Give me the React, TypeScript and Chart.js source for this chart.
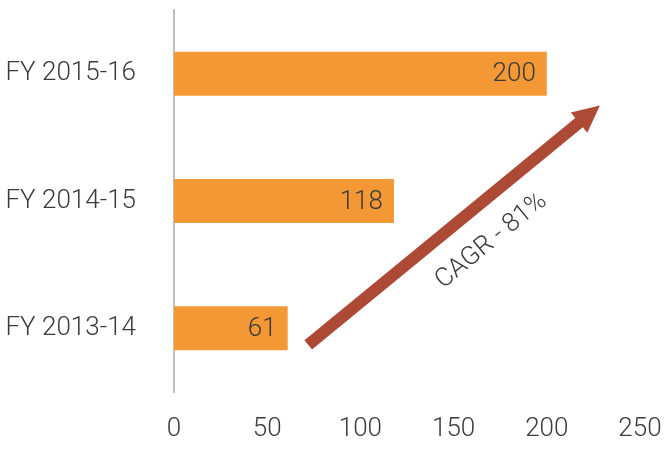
import React, { useEffect, useRef } from "react";
import { Chart, registerables } from "chart.js";

Chart.register(...registerables);

const categories = ["FY 2015-16", "FY 2014-15", "FY 2013-14"];
const values = [200, 118, 61];
const xTicks = [0, 50, 100, 150, 200, 250];
const arrowLabel = "CAGR - 81%";
// arrow endpoints in data space: [x value, category index]
const arrowStart = [72, 2.13];
const arrowEnd = [228.5, 0.25];

const FONT = "Roboto";
const TEXT = "#3a3a3a";
const FSIZE = 26;

const annotationPlugin = {
  id: "annot",
  afterDatasetsDraw(chart: any) {
    const ctx = chart.ctx;
    const xs = chart.scales.x;
    const ys = chart.scales.y;
    const meta = chart.getDatasetMeta(0);
    ctx.save();
    ctx.font = `300 ${FSIZE}px ${FONT}`;
    ctx.fillStyle = TEXT;
    ctx.textAlign = "right";
    ctx.textBaseline = "middle";
    meta.data.forEach((bar: any, i: number) => {
      ctx.fillText(String(values[i]), bar.x - 11, bar.y + 1);
    });
    const x1 = xs.getPixelForValue(arrowStart[0]);
    const y1 = ys.getPixelForValue(arrowStart[1]);
    const x2 = xs.getPixelForValue(arrowEnd[0]);
    const y2 = ys.getPixelForValue(arrowEnd[1]);
    const ang = Math.atan2(y2 - y1, x2 - x1);
    const len = Math.hypot(x2 - x1, y2 - y1);
    const headLen = 27;
    const headHalf = 13;
    const shaftHalf = 6;
    ctx.translate(x1, y1);
    ctx.rotate(ang);
    ctx.fillStyle = "#AD4A35";
    ctx.beginPath();
    ctx.moveTo(0, -shaftHalf);
    ctx.lineTo(len - headLen, -shaftHalf);
    ctx.lineTo(len - headLen, -headHalf);
    ctx.lineTo(len, 0);
    ctx.lineTo(len - headLen, headHalf);
    ctx.lineTo(len - headLen, shaftHalf);
    ctx.lineTo(0, shaftHalf);
    ctx.closePath();
    ctx.fill();
    ctx.fillStyle = TEXT;
    ctx.font = `300 ${FSIZE}px ${FONT}`;
    ctx.textAlign = "center";
    ctx.textBaseline = "middle";
    ctx.fillText(arrowLabel, len * 0.55, 36);
    ctx.restore();
  },
};

export default function App() {
  const ref = useRef<HTMLCanvasElement>(null);
  useEffect(() => {
    if (!ref.current) return;
    const chart = new Chart(ref.current, {
      type: "bar",
      data: {
        labels: categories,
        datasets: [
          {
            data: values,
            backgroundColor: "#F39835",
            barPercentage: 0.345,
            categoryPercentage: 1,
          },
        ],
      },
      options: {
        indexAxis: "y",
        animation: false,
        responsive: false,
        layout: { padding: { top: 10, right: 25, bottom: 0, left: 0 } },
        plugins: { legend: { display: false }, tooltip: { enabled: false } },
        scales: {
          x: {
            min: 0,
            max: 250,
            afterBuildTicks: (s: any) => {
              s.ticks = xTicks.map((v) => ({ value: v }));
            },
            grid: { display: false, drawTicks: false },
            border: { display: false },
            ticks: {
              font: { family: FONT, size: FSIZE, weight: "300" },
              color: TEXT,
              padding: 22,
              maxRotation: 0,
            },
            afterFit: (s: any) => {
              s.height = 57;
              s.paddingLeft = 0;
              s.paddingRight = 0;
            },
          },
          y: {
            grid: { display: false, drawTicks: false },
            border: { display: true, color: "#BFBFBF", width: 2 },
            ticks: {
              font: { family: FONT, size: FSIZE, weight: "300" },
              color: TEXT,
              padding: 38,
            },
            afterFit: (s: any) => {
              s.width = 174;
              s.paddingTop = 0;
              s.paddingBottom = 0;
            },
          },
        },
      },
      plugins: [annotationPlugin],
    });
    return () => chart.destroy();
  }, []);
  return (
    <div style={{ position: "absolute", left: 0, top: 0, width: 665, height: 449, background: "#fff" }}>
      <canvas ref={ref} width={665} height={449} style={{ width: 665, height: 449 }} />
    </div>
  );
}
